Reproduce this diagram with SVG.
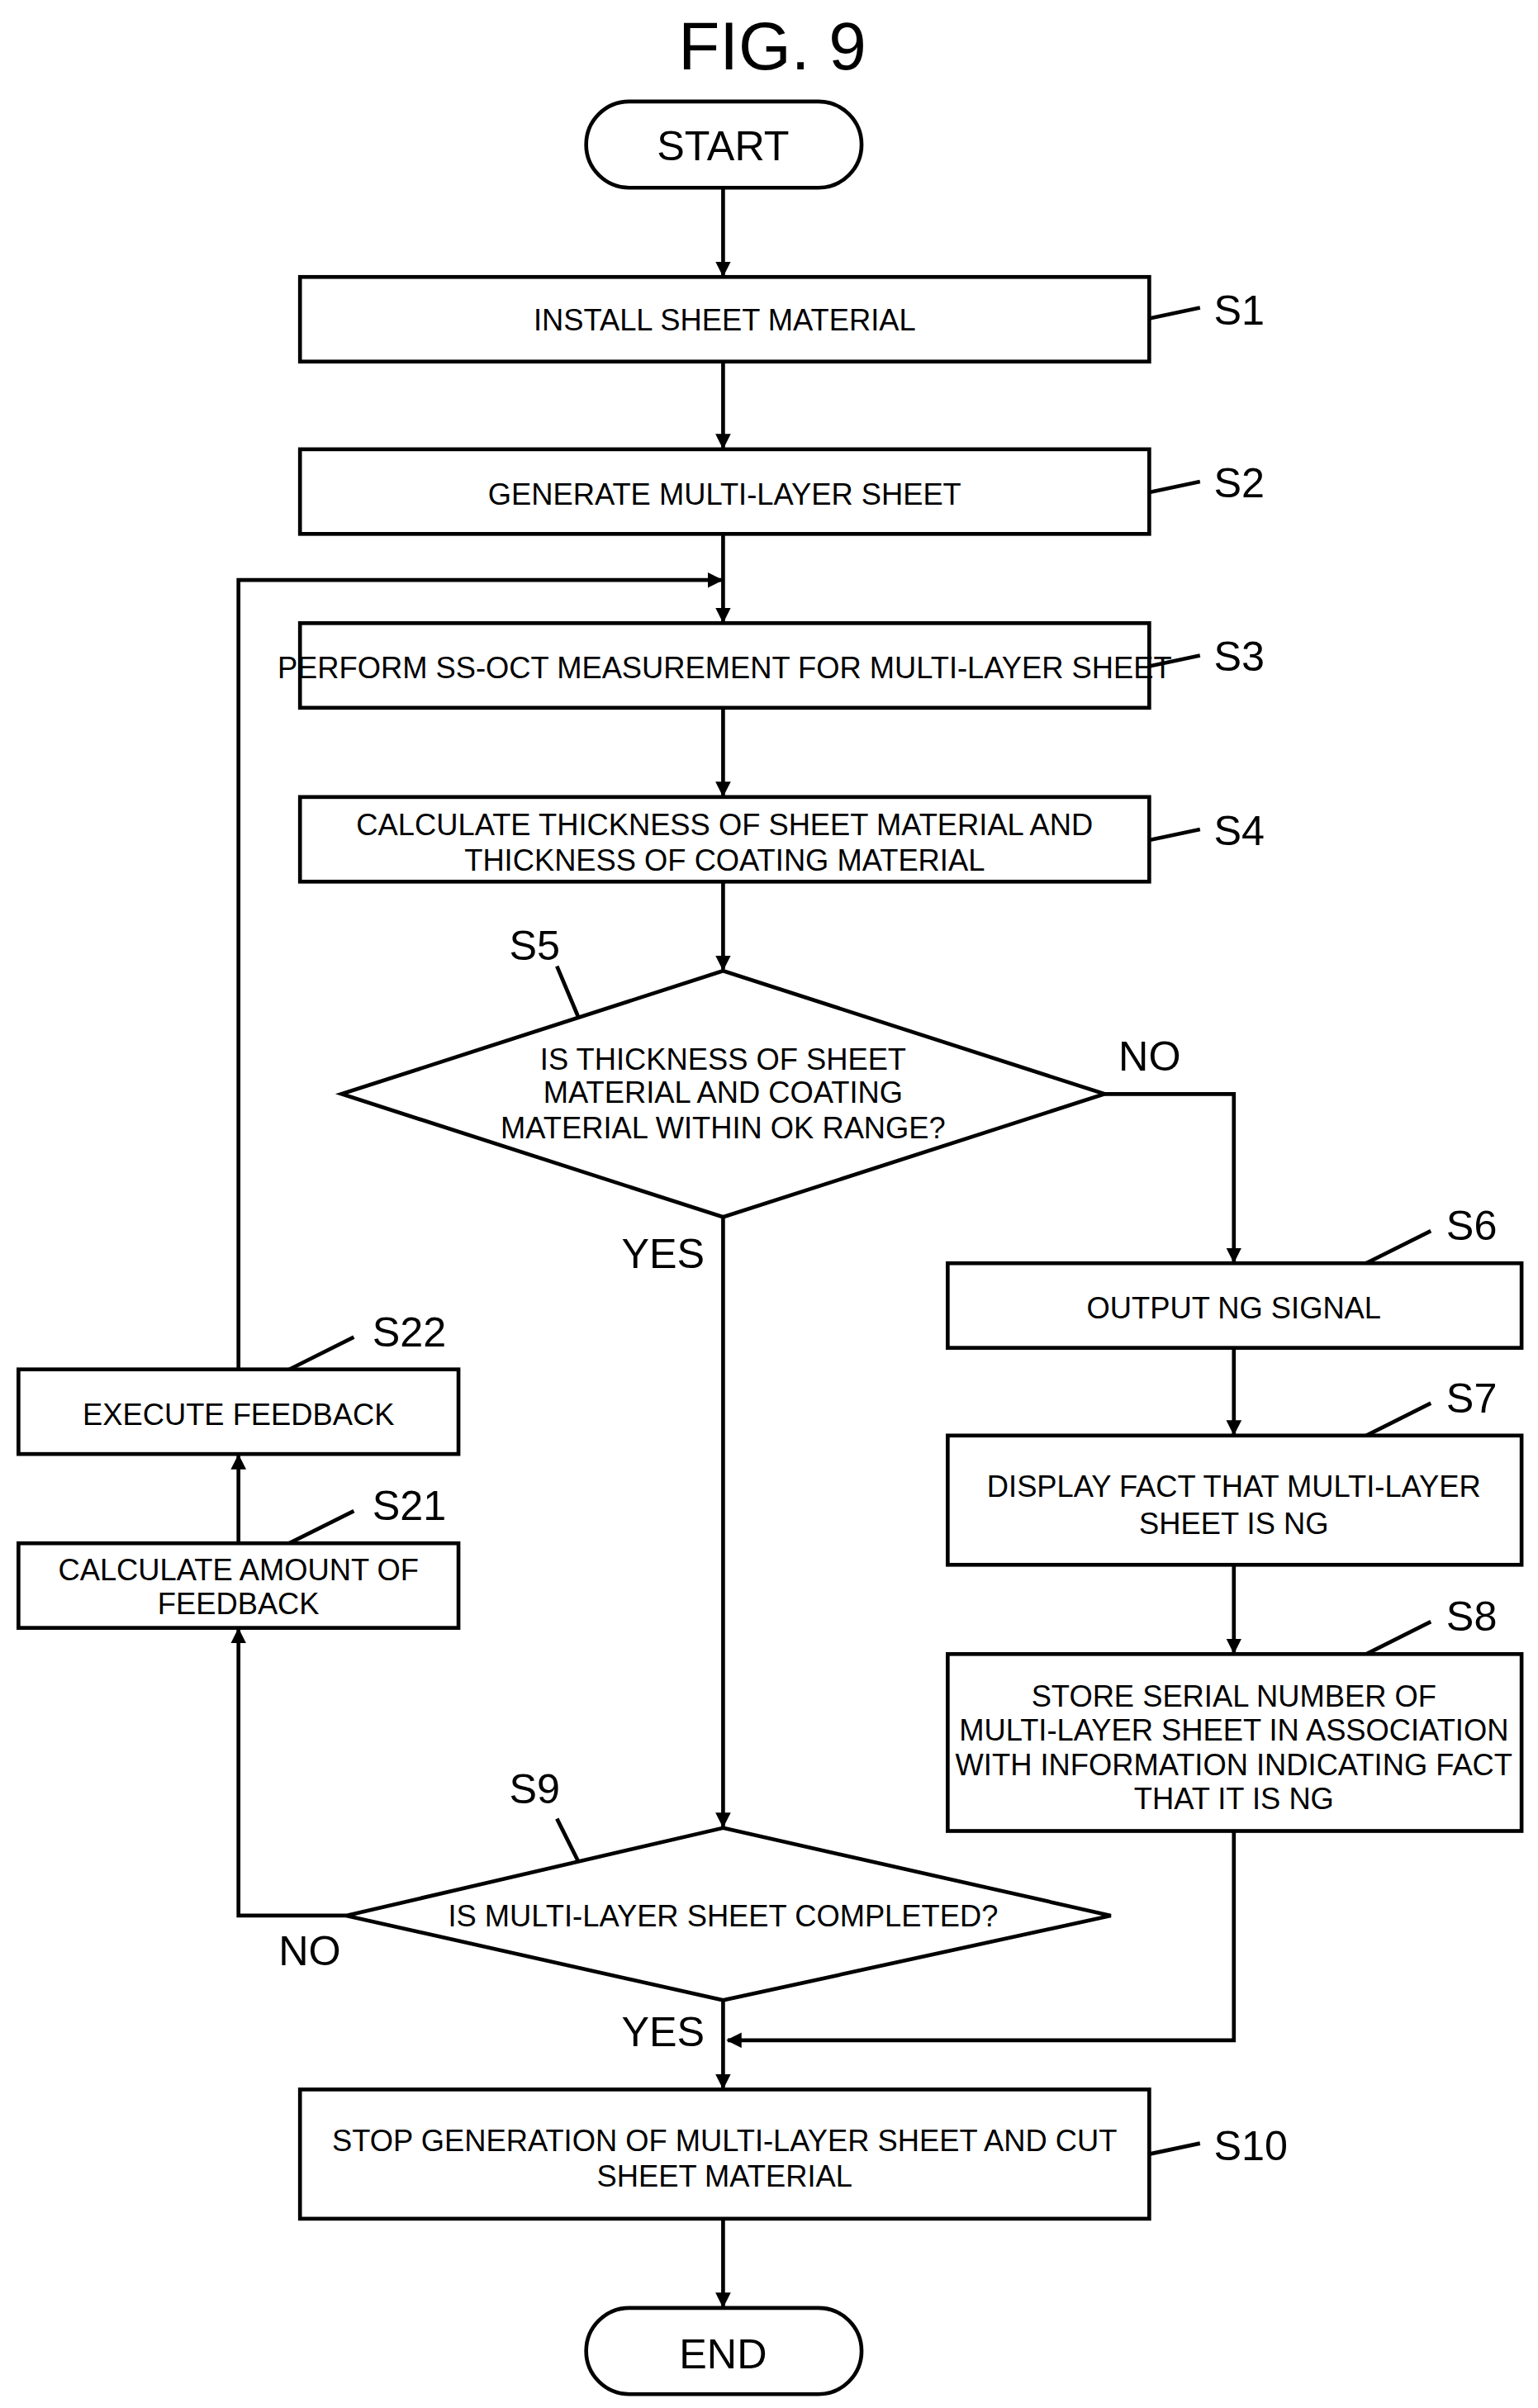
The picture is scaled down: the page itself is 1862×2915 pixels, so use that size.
<svg xmlns="http://www.w3.org/2000/svg" width="1862" height="2915" viewBox="0 0 1862 2915">
<style>
.b{fill:#fff;stroke:#000;stroke-width:2.5}
.l{fill:none;stroke:#000;stroke-width:2.5}
.t{font-family:"Liberation Sans",Arial,sans-serif;font-size:19.5px;text-anchor:middle}
.s{font-family:"Liberation Sans",Arial,sans-serif;font-size:27px}
</style>
<defs><marker id="a" markerWidth="10" markerHeight="10" refX="9" refY="5" orient="auto" markerUnits="userSpaceOnUse"><path d="M0,0L10,5L0,10z"/></marker></defs>
<rect width="1862" height="2915" fill="#fff"/>
<g transform="scale(1.8626)">
<text x="502" y="45" style="font-family:'Liberation Sans',Arial,sans-serif;font-size:44px;text-anchor:middle">FIG. 9</text>
<g id="connectors">
<path class="l" marker-end="url(#a)" d="M470,122V179"/>
<path class="l" marker-end="url(#a)" d="M470,235V291"/>
<path class="l" marker-end="url(#a)" d="M470,347V404"/>
<path class="l" marker-end="url(#a)" d="M470,460V517"/>
<path class="l" marker-end="url(#a)" d="M470,573V630"/>
<path class="l" marker-end="url(#a)" d="M718,711H802V820"/>
<path class="l" marker-end="url(#a)" d="M802,876V932"/>
<path class="l" marker-end="url(#a)" d="M802,1017V1074"/>
<path class="l" marker-end="url(#a)" d="M802,1190V1326H473"/>
<path class="l" marker-end="url(#a)" d="M470,791V1187"/>
<path class="l" marker-end="url(#a)" d="M225,1245H155V1059"/>
<path class="l" marker-end="url(#a)" d="M155,1003V946"/>
<path class="l" marker-end="url(#a)" d="M155,890V377H469"/>
<path class="l" marker-end="url(#a)" d="M470,1300V1357"/>
<path class="l" marker-end="url(#a)" d="M470,1442V1499"/>
<path class="l" d="M747,207L780,200M747,320L780,313M747,433L780,426M747,546L780,539M747,1400L780,1393M362,628L378,666M888,821L930,800M888,933L930,912M888,1075L930,1054M188,890L230,869M188,1003L230,982M362,1182L378,1214"/>
</g>
<g id="start"><rect class="b" x="381" y="66" width="179" height="56" rx="28"/><text class="s" x="470" y="104" text-anchor="middle">START</text></g>
<g id="s1"><rect class="b" x="195" y="180" width="552" height="55"/><text class="t" x="471" y="215">INSTALL SHEET MATERIAL</text><text class="s" x="789" y="211">S1</text></g>
<g id="s2"><rect class="b" x="195" y="292" width="552" height="55"/><text class="t" x="471" y="328">GENERATE MULTI-LAYER SHEET</text><text class="s" x="789" y="323">S2</text></g>
<g id="s3"><rect class="b" x="195" y="405" width="552" height="55"/><text class="t" x="471" y="441">PERFORM SS-OCT MEASUREMENT FOR MULTI-LAYER SHEET</text><text class="s" x="789" y="436">S3</text></g>
<g id="s4"><rect class="b" x="195" y="518" width="552" height="55"/><text class="t" x="471" y="543">CALCULATE THICKNESS OF SHEET MATERIAL AND</text><text class="t" x="471" y="566">THICKNESS OF COATING MATERIAL</text><text class="s" x="789" y="549">S4</text></g>
<g id="s5"><path class="b" d="M470,631L718,711L470,791L222,711Z"/><text class="t" x="470" y="695">IS THICKNESS OF SHEET</text><text class="t" x="470" y="717">MATERIAL AND COATING</text><text class="t" x="470" y="740">MATERIAL WITHIN OK RANGE?</text><text class="s" x="331" y="624">S5</text><text class="s" x="727" y="696">NO</text><text class="s" x="404" y="824">YES</text></g>
<g id="s6"><rect class="b" x="616" y="821" width="373" height="55"/><text class="t" x="802" y="857">OUTPUT NG SIGNAL</text><text class="s" x="940" y="806">S6</text></g>
<g id="s7"><rect class="b" x="616" y="933" width="373" height="84"/><text class="t" x="802" y="973">DISPLAY FACT THAT MULTI-LAYER</text><text class="t" x="802" y="997">SHEET IS NG</text><text class="s" x="940" y="918">S7</text></g>
<g id="s8"><rect class="b" x="616" y="1075" width="373" height="115"/><text class="t" x="802" y="1109">STORE SERIAL NUMBER OF</text><text class="t" x="802" y="1131">MULTI-LAYER SHEET IN ASSOCIATION</text><text class="t" x="802" y="1154">WITH INFORMATION INDICATING FACT</text><text class="t" x="802" y="1176">THAT IT IS NG</text><text class="s" x="940" y="1060">S8</text></g>
<g id="s22"><rect class="b" x="12" y="890" width="286" height="55"/><text class="t" x="155" y="926">EXECUTE FEEDBACK</text><text class="s" x="242" y="875">S22</text></g>
<g id="s21"><rect class="b" x="12" y="1003" width="286" height="55"/><text class="t" x="155" y="1027">CALCULATE AMOUNT OF</text><text class="t" x="155" y="1049">FEEDBACK</text><text class="s" x="242" y="988">S21</text></g>
<g id="s9"><path class="b" d="M470,1188L722,1245L470,1300L225,1245Z"/><text class="t" x="470" y="1252">IS MULTI-LAYER SHEET COMPLETED?</text><text class="s" x="331" y="1172">S9</text><text class="s" x="181" y="1277">NO</text><text class="s" x="404" y="1330">YES</text></g>
<g id="s10"><rect class="b" x="195" y="1358" width="552" height="84"/><text class="t" x="471" y="1398">STOP GENERATION OF MULTI-LAYER SHEET AND CUT</text><text class="t" x="471" y="1421">SHEET MATERIAL</text><text class="s" x="789" y="1404">S10</text></g>
<g id="end"><rect class="b" x="381" y="1500" width="179" height="56" rx="28"/><text class="s" x="470" y="1539" text-anchor="middle">END</text></g>
</g>
</svg>
